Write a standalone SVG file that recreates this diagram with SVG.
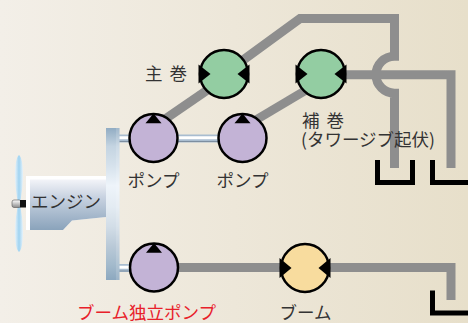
<svg xmlns="http://www.w3.org/2000/svg" width="468" height="323" viewBox="0 0 468 323">
  <defs>
    <linearGradient id="bg" x1="0" y1="0" x2="1" y2="0">
      <stop offset="0" stop-color="#f3efe8"/>
      <stop offset="1" stop-color="#e7dfca"/>
    </linearGradient>
    <linearGradient id="engineBody" x1="0" y1="179" x2="0" y2="230" gradientUnits="userSpaceOnUse">
      <stop offset="0" stop-color="#f4f5f9"/>
      <stop offset="0.35" stop-color="#c9d3e1"/>
      <stop offset="1" stop-color="#8aa3bb"/>
    </linearGradient>
    <linearGradient id="gearbox" x1="0" y1="128" x2="0" y2="280" gradientUnits="userSpaceOnUse">
      <stop offset="0" stop-color="#91acc3"/>
      <stop offset="0.12" stop-color="#c4d4e1"/>
      <stop offset="0.25" stop-color="#d6e2ec"/>
      <stop offset="0.38" stop-color="#eef4fa"/>
      <stop offset="0.52" stop-color="#e3ebf2"/>
      <stop offset="0.65" stop-color="#d2dde7"/>
      <stop offset="0.78" stop-color="#b9c9d7"/>
      <stop offset="0.9" stop-color="#a3bacc"/>
      <stop offset="1" stop-color="#8ca8bf"/>
    </linearGradient>
    <linearGradient id="blade" x1="0" y1="0" x2="1" y2="0">
      <stop offset="0" stop-color="#e6f2fa"/>
      <stop offset="0.5" stop-color="#9fd3f1"/>
      <stop offset="1" stop-color="#e6f2fa"/>
    </linearGradient>
    <linearGradient id="hub" x1="0" y1="0" x2="0" y2="1">
      <stop offset="0" stop-color="#ffffff"/>
      <stop offset="1" stop-color="#8a8a8a"/>
    </linearGradient>
  </defs>
  <style>
    .pipe { fill: none; stroke: #8e8e8e; stroke-width: 9; stroke-linejoin: miter; }
    .tank { fill: none; stroke: #000; stroke-width: 5; }
    .shaft-o { stroke: #a9bdd0; stroke-width: 8; }
    .shaft-i { stroke: #ffffff; stroke-width: 3; }
    .shaft-d { stroke: #7d8ea0; stroke-width: 1; }
    .pump { fill: #c3b3d6; stroke: #000; stroke-width: 2.5; }
    .motor-g { fill: #93cda2; stroke: #000; stroke-width: 2.5; }
    .motor-y { fill: #f8dc9e; stroke: #000; stroke-width: 2.5; }
    .tri { fill: #000; }
    .label { font-family: "Noto Sans CJK JP", "Noto Sans", sans-serif; font-size: 17.5px; fill: #333; }
    .red { fill: #e8202a; }
  </style>

  <rect x="0" y="0" width="468" height="323" fill="url(#bg)"/>

  <!-- hydraulic lines and drive shafts -->
  <g id="connectors">
    <path class="pipe" d="M155,126 L222,80"/>
    <path class="pipe" d="M244,127 L318,83"/>
    <path class="pipe" d="M224,74 L300,18.5 H394.5 V56.2 A18.5,18.5 0 0 0 394.5,93.2 V168"/>
    <path class="pipe" d="M321,74.7 H451 V168"/>
    <path class="pipe" d="M154,267.5 H451 V300"/>

    <path class="tank" d="M377.5,160 V182.5 H412.5 V160"/>
    <path class="tank" d="M432.5,160 V182.5 H472"/>
    <path class="tank" d="M432.5,290.5 V313 H472"/>

    <g id="shafts">
      <line class="shaft-o" x1="119" y1="138.5" x2="243" y2="138.5"/>
      <line class="shaft-i" x1="119" y1="137.8" x2="243" y2="137.8"/>
      <line class="shaft-d" x1="119" y1="141.5" x2="243" y2="141.5"/>
      <line class="shaft-o" x1="119" y1="268" x2="154" y2="268"/>
      <line class="shaft-i" x1="119" y1="267.3" x2="154" y2="267.3"/>
      <line class="shaft-d" x1="119" y1="271" x2="154" y2="271"/>
    </g>
  </g>

  <!-- engine with propeller -->
  <g id="engine">
    <path d="M26,176 H106 V217 L72,220.5 L63,230 H26 Z" fill="#ffffff"/>
    <path d="M30,179.5 H106 V217 L72,220.5 L63,230 H30 Z" fill="url(#engineBody)"/>
    <path d="M19,155 C23,158 24,175 22,190 L20.5,201 L17.5,201 L16,190 C14,175 15,158 19,155 Z" fill="url(#blade)"/>
    <path d="M19,252 C23,249 24,232 22,217 L20.5,207 L17.5,207 L16,217 C14,232 15,249 19,252 Z" fill="url(#blade)"/>
    <rect x="12" y="200" width="9" height="7.5" rx="2" fill="url(#hub)" stroke="#555" stroke-width="0.6"/>
    <rect x="20" y="200" width="6" height="7.5" fill="#111"/>
    <text class="label" x="31" y="208">エンジン</text>
  </g>

  <g id="gearbox-unit">
    <rect x="106" y="128" width="13.5" height="152" fill="url(#gearbox)"/>
    <rect x="116" y="128" width="3.5" height="152" fill="#ffffff" opacity="0.15"/>
  </g>

  <g id="pump-1">
    <circle class="pump" cx="153.5" cy="138" r="24"/>
    <polygon class="tri" points="145.5,123.3 161.5,123.3 153.5,113.5"/>
    <text class="label" x="153.5" y="187" text-anchor="middle">ポンプ</text>
  </g>

  <g id="pump-2">
    <circle class="pump" cx="242.5" cy="138" r="24"/>
    <polygon class="tri" points="234.5,123.3 250.5,123.3 242.5,113.5"/>
    <text class="label" x="242.5" y="187" text-anchor="middle">ポンプ</text>
  </g>

  <g id="boom-pump">
    <circle class="pump" cx="154" cy="267.5" r="24"/>
    <polygon class="tri" points="146,252.8 162,252.8 154,243"/>
    <text class="label red" x="77" y="319" font-size="18">ブーム独立ポンプ</text>
  </g>

  <g id="main-winch">
    <circle class="motor-g" cx="224" cy="74" r="24"/>
    <polygon class="tri" points="198.5,64.5 210.5,74 198.5,83.5"/>
    <polygon class="tri" points="249.5,64.5 237.5,74 249.5,83.5"/>
    <text class="label" x="187" y="79.5" text-anchor="end" word-spacing="3">主 巻</text>
  </g>

  <g id="aux-winch">
    <circle class="motor-g" cx="321" cy="74" r="24"/>
    <polygon class="tri" points="295.5,64.5 307.5,74 295.5,83.5"/>
    <polygon class="tri" points="346.5,64.5 334.5,74 346.5,83.5"/>
    <text class="label" x="302" y="126.5" word-spacing="3">補 巻</text>
    <text class="label" x="301" y="146" font-size="18">(タワージブ起伏)</text>
  </g>

  <g id="boom-motor">
    <circle class="motor-y" cx="305" cy="268" r="24"/>
    <polygon class="tri" points="279.5,258 291.5,268 279.5,278"/>
    <polygon class="tri" points="330.5,258 318.5,268 330.5,278"/>
    <text class="label" x="305.5" y="319" text-anchor="middle">ブーム</text>
  </g>
</svg>
